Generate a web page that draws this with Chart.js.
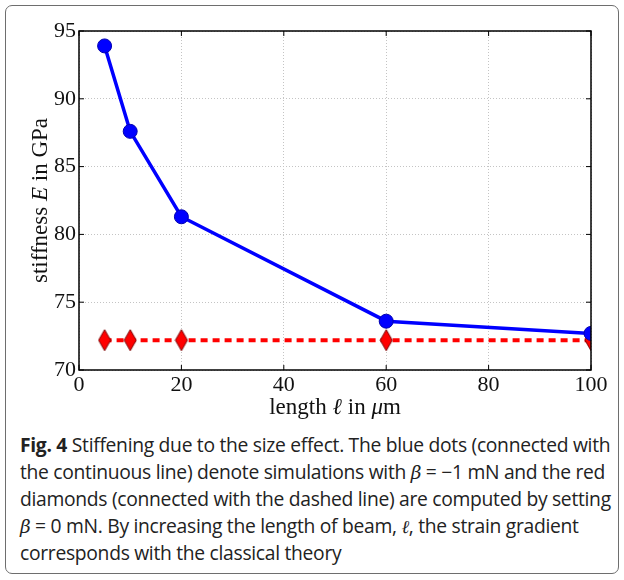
<!DOCTYPE html>
<html>
<head>
<meta charset="utf-8">
<script src="https://cdn.jsdelivr.net/npm/chart.js@4.4.0/dist/chart.umd.min.js"></script>
<style>
    body { margin: 0; background: #ffffff; }
    #frame {
        position: absolute; left: 5px; top: 5px;
        width: 612px; height: 567px;
        border: 1.5px solid #6e6e6e; border-radius: 7px;
    }
    #chart { position: absolute; left: 0; top: 0; }
    #caption {
        position: absolute; left: 20px; top: 432px;
        font-family: "Open Sans", sans-serif; font-size: 19.3px;
        line-height: 26.6px; color: #222; white-space: nowrap;
        letter-spacing: -0.3px;
    }
    #caption b { font-weight: 700; }
    .m { font-family: "DejaVu Serif", serif; font-style: italic; font-size: 18.5px; }
</style>
</head>
<body>
<div id="frame"></div>
<canvas id="chart" width="624" height="430"></canvas>
<div id="caption">
<b>Fig. 4</b> Stiffening due to the size effect. The blue dots (connected with<br>
the continuous line) denote simulations with <span class="m">β</span> = −1 mN and the red<br>
diamonds (connected with the dashed line) are computed by setting<br>
<span class="m">β</span> = 0 mN. By increasing the length of beam, <span class="m">ℓ</span>, the strain gradient<br>
corresponds with the classical theory
</div>
<script>
const lengths = [5, 10, 20, 60, 100];
const stiffnessBeta = [93.9, 87.6, 81.3, 73.6, 72.7];
const stiffnessZero = [72.2, 72.2, 72.2, 72.2, 72.2];
const xTicks = [0, 20, 40, 60, 80, 100];
const yTicks = [70, 75, 80, 85, 90, 95];

const serif = '"Liberation Serif", "DejaVu Serif", serif';

// tall red diamond marker
const diamond = document.createElement('canvas');
diamond.width = 14;
diamond.height = 23;
const dctx = diamond.getContext('2d');
dctx.beginPath();
dctx.moveTo(7, 1);
dctx.lineTo(13, 11.5);
dctx.lineTo(7, 22);
dctx.lineTo(1, 11.5);
dctx.closePath();
dctx.fillStyle = '#ff0000';
dctx.fill();
dctx.strokeStyle = '#7a0000';
dctx.lineWidth = 1;
dctx.stroke();

function drawMixed(ctx, parts, x, y) {
    let total = 0;
    parts.forEach(p => {
        ctx.font = p[1];
        total += ctx.measureText(p[0]).width;
    });
    let cx = x - total / 2;
    parts.forEach(p => {
        ctx.font = p[1];
        ctx.fillText(p[0], cx, y);
        cx += ctx.measureText(p[0]).width;
    });
}

const frameBox = {
    id: 'frameBox',
    afterDraw(chart) {
        const ctx = chart.ctx;
        const a = chart.chartArea;
        const xs = chart.scales.x;
        const ys = chart.scales.y;
        ctx.save();
        ctx.strokeStyle = '#000000';
        ctx.lineWidth = 1.5;
        ctx.strokeRect(a.left, a.top, a.right - a.left, a.bottom - a.top);

        ctx.lineWidth = 1;
        ctx.beginPath();
        xTicks.forEach(v => {
            const px = xs.getPixelForValue(v);
            ctx.moveTo(px, a.bottom);
            ctx.lineTo(px, a.bottom - 5);
            ctx.moveTo(px, a.top);
            ctx.lineTo(px, a.top + 5);
        });
        yTicks.forEach(v => {
            const py = ys.getPixelForValue(v);
            ctx.moveTo(a.left, py);
            ctx.lineTo(a.left + 5, py);
            ctx.moveTo(a.right, py);
            ctx.lineTo(a.right - 5, py);
        });
        ctx.stroke();

        ctx.fillStyle = '#111111';
        ctx.textBaseline = 'middle';
        ctx.textAlign = 'left';
        drawMixed(ctx, [
            ['length ', '23px ' + serif],
            ['ℓ', 'italic 23px ' + serif],
            [' in ', '23px ' + serif],
            ['μ', 'italic 23px ' + serif],
            ['m', '23px ' + serif]
        ], (a.left + a.right) / 2, 408);

        ctx.translate(41, (a.top + a.bottom) / 2);
        ctx.rotate(-Math.PI / 2);
        drawMixed(ctx, [
            ['stiffness ', '23px ' + serif],
            ['E', 'italic 23px ' + serif],
            [' in GPa', '23px ' + serif]
        ], 0, 0);
        ctx.restore();
    }
};

new Chart(document.getElementById('chart'), {

    type: 'line',

    data: {
        datasets: [{
            label: 'beta = -1 mN',
            data: lengths.map((l, i) => ({ x: l, y: stiffnessBeta[i] })),
            borderColor: '#0000ff',
            borderWidth: 3.5,
            pointStyle: 'circle',
            pointRadius: 7,
            pointBackgroundColor: '#0000ff',
            pointBorderColor: '#0000b0',
            pointBorderWidth: 1
        }, {
            label: 'beta = 0 mN',
            data: lengths.map((l, i) => ({ x: l, y: stiffnessZero[i] })),
            borderColor: '#ff0000',
            borderWidth: 4,
            borderDash: [7, 5],
            pointStyle: diamond
        }]
    },

    options: {
        responsive: false,
        animation: false,
        layout: {
            padding: { left: 0, right: 33, top: 31, bottom: 0 }
        },
        plugins: {
            legend: { display: false },
            tooltip: { enabled: false }
        },
        scales: {
            x: {
                type: 'linear',
                min: 0,
                max: 100,
                afterBuildTicks: s => { s.ticks = xTicks.map(v => ({ value: v })); },
                afterFit: s => { s.height = 60; },
                ticks: {
                    color: '#111111',
                    padding: 2,
                    font: { family: serif, size: 22 }
                },
                grid: {
                    color: '#c4c4c4',
                    lineWidth: 1,
                    drawTicks: false
                },
                border: { display: false, dash: [1, 2] }
            },
            y: {
                min: 70,
                max: 95,
                afterBuildTicks: s => { s.ticks = yTicks.map(v => ({ value: v })); },
                afterFit: s => { s.width = 79; },
                ticks: {
                    color: '#111111',
                    padding: 3,
                    font: { family: serif, size: 22 }
                },
                grid: {
                    color: '#c4c4c4',
                    lineWidth: 1,
                    drawTicks: false
                },
                border: { display: false, dash: [1, 2] }
            }
        }
    },

    plugins: [frameBox]
});
</script>
</body>
</html>
